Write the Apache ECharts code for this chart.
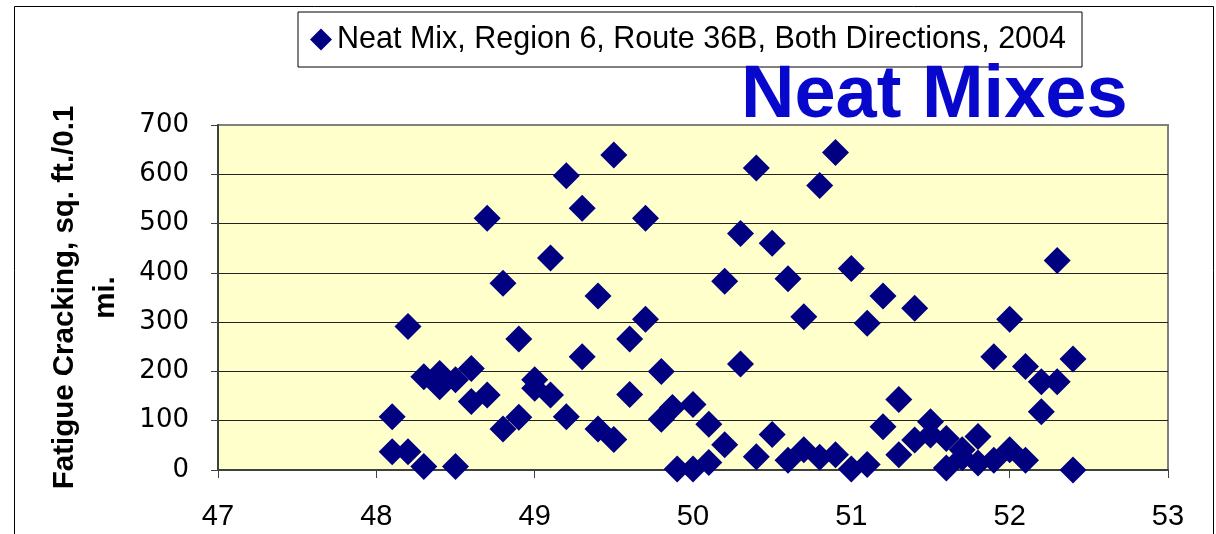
<!DOCTYPE html>
<html>
<head>
<meta charset="utf-8">
<script src="https://cdn.jsdelivr.net/npm/echarts@6/dist/echarts.min.js"></script>
<style>
  html, body { margin: 0; padding: 0; background: #ffffff; }
  #chart { width: 1216px; height: 534px; }
</style>
</head>
<body>
<div id="chart"></div>
<script>
// Milepost along Route 36B and measured fatigue cracking (sq. ft. per 0.1 mi.)
const milepost = [
  48.1, 48.1, 48.2, 48.2, 48.3, 48.5, 48.3, 48.4, 48.4, 48.5,
  48.6, 48.6, 48.7, 48.7, 48.8, 48.9, 48.8, 48.9, 49.0, 49.0,
  49.1, 49.1, 49.2, 49.2, 49.5, 49.3, 49.7, 50.3, 49.4, 50.2,
  49.7, 49.6, 49.3, 49.8, 50.3, 49.6, 49.4, 49.5, 49.8, 49.87,
  50.0, 50.1, 50.2, 49.9, 50.0, 50.1, 50.4, 50.9, 50.8, 50.5,
  51.0, 50.6, 51.2, 51.4, 50.7, 51.1, 51.3, 51.2, 50.5, 50.4,
  50.6, 50.7, 50.8, 50.9, 51.0, 51.1, 51.3, 51.4, 51.5, 51.5,
  51.6, 51.6, 51.7, 51.7, 51.8, 51.8, 51.9, 52.0, 52.1, 52.3,
  52.0, 51.9, 52.1, 52.4, 52.2, 52.3, 52.2, 52.4
];
const cracking = [
  108, 37, 37, 291, 7, 7, 189, 196, 169, 183,
  206, 139, 152, 511, 379, 266, 83, 107, 183, 166,
  152, 430, 597, 108, 639, 531, 511, 480, 353, 383,
  306, 266, 230, 200, 215, 153, 83, 62, 103, 127,
  133, 93, 51, 2, 2, 15, 613, 644, 577, 460,
  409, 388, 353, 328, 311, 298, 143, 88, 72, 27,
  20, 41, 26, 31, 2, 11, 31, 61, 98, 71,
  64, 4, 41, 25, 68, 14, 20, 41, 20, 425,
  306, 230, 210, 225, 179, 179, 118, 0
];
const xTicks = { min: 47, max: 53, step: 1 };
const yTicks = { min: 0, max: 700, step: 100 };
const seriesName = 'Neat Mix, Region 6, Route 36B, Both Directions, 2004';
const yTitle = 'Fatigue Cracking, sq. ft./0.1\nmi.';
const overlayTitle = 'Neat Mixes';

const points = milepost.map((m, i) => [m, cracking[i]]);
const font = '"Liberation Sans", Arial, sans-serif';
const wideFont = '"DejaVu Sans", "Liberation Sans", sans-serif';

const chart = echarts.init(document.getElementById('chart'), null, { renderer: 'canvas' });
chart.setOption({
  animation: false,
  backgroundColor: '#ffffff',
  title: {
    text: overlayTitle,
    left: 741,
    top: 60,
    padding: 0,
    textStyle: {
      fontFamily: font,
      fontSize: 74,
      lineHeight: 74,
      fontWeight: 'bold',
      color: '#0808CC'
    },
    z: 10
  },
  legend: {
    left: 298,
    top: 12,
    padding: [12, 16, 12, 12],
    backgroundColor: '#ffffff',
    borderColor: '#000000',
    borderWidth: 1,
    itemWidth: 22,
    itemHeight: 22,
    icon: 'diamond',
    textStyle: { fontFamily: font, fontSize: 30.5, color: '#000000' },
    data: [seriesName]
  },
  graphic: [{
    type: 'rect',
    left: 12,
    top: 4,
    shape: { width: 1199, height: 560 },
    style: { fill: 'none', stroke: '#000000', lineWidth: 1 },
    silent: true,
    z: -1
  }],
  grid: {
    left: 218,
    right: 48,
    top: 125,
    bottom: 64,
    show: true,
    backgroundColor: '#FFFFCC',
    borderColor: '#808080',
    borderWidth: 2
  },
  xAxis: {
    type: 'value',
    min: xTicks.min,
    max: xTicks.max,
    interval: xTicks.step,
    splitLine: { show: false },
    axisLine: { lineStyle: { color: '#404040', width: 2 } },
    axisTick: { show: true, inside: false, length: 8, lineStyle: { color: '#404040', width: 1 } },
    axisLabel: { margin: 32, fontFamily: font, fontSize: 29, color: '#000000' }
  },
  yAxis: {
    type: 'value',
    min: yTicks.min,
    max: yTicks.max,
    interval: yTicks.step,
    name: yTitle,
    nameLocation: 'middle',
    nameRotate: 90,
    nameGap: 92,
    nameTextStyle: {
      fontFamily: font,
      fontSize: 29.5,
      fontWeight: 'bold',
      color: '#000000',
      lineHeight: 41,
      align: 'center'
    },
    splitLine: { show: true, showMaxLine: false, lineStyle: { color: '#222222', width: 1 } },
    axisLine: { show: true, lineStyle: { color: '#404040', width: 2 } },
    axisTick: { show: true, inside: false, length: 7, lineStyle: { color: '#404040', width: 1 } },
    axisLabel: { margin: 29, fontFamily: wideFont, fontSize: 26, color: '#000000' }
  },
  series: [{
    name: seriesName,
    type: 'scatter',
    symbol: 'diamond',
    symbolSize: 27,
    clip: false,
    itemStyle: { color: '#000080', opacity: 1 },
    data: points,
    z: 3
  }]
});
</script>
</body>
</html>
